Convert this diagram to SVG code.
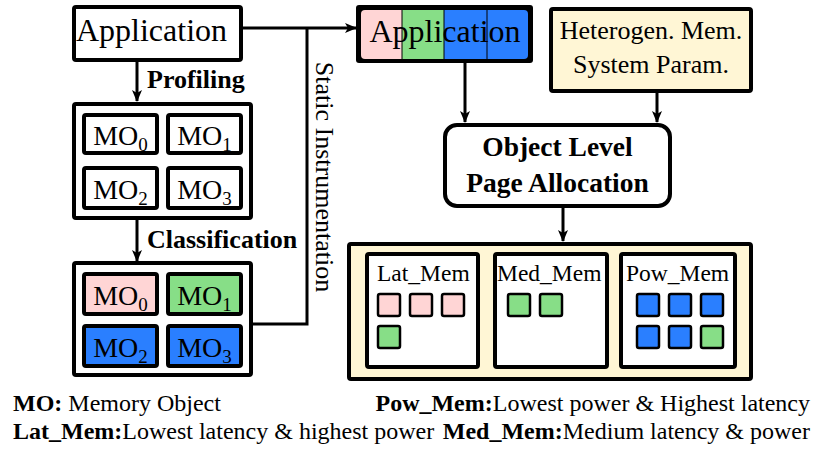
<svg xmlns="http://www.w3.org/2000/svg" width="813" height="451" viewBox="0 0 813 451">
<style>
.box{fill:#fff;stroke:#000;stroke-width:4}
.mo{stroke:#000;stroke-width:4}
.sq{stroke:#000;stroke-width:2.5}
.conn{fill:none;stroke:#000;stroke-width:3}
.b{font-weight:bold}
.pink{fill:#ffd5d5}.green{fill:#87de87}.blue{fill:#2a7fff}.cream{fill:#fff6d5}
</style>
<defs>
<marker id="ah" markerUnits="userSpaceOnUse" markerWidth="12" markerHeight="10" refX="11" refY="5" orient="auto">
<path d="M0,0 L12,5 L0,10 L3,5 z" fill="#000"/>
</marker>
<clipPath id="appclip"><rect x="361" y="10" width="167" height="49" rx="4"/></clipPath>
</defs>
<g font-family="'Liberation Serif', 'Times New Roman', Times, serif">
<g id="connectors">
<line class="conn" x1="243" y1="28" x2="356" y2="28" marker-end="url(#ah)"/>
<polyline class="conn" points="253,324 307,324 307,28"/>
<line class="conn" x1="137" y1="62" x2="137" y2="101" marker-end="url(#ah)"/>
<line class="conn" x1="137" y1="220" x2="137" y2="261" marker-end="url(#ah)"/>
<line class="conn" x1="465" y1="62" x2="465" y2="122" marker-end="url(#ah)"/>
<line class="conn" x1="657" y1="93" x2="657" y2="122" marker-end="url(#ah)"/>
<line class="conn" x1="563" y1="208" x2="563" y2="241" marker-end="url(#ah)"/>
<text class="b" x="147" y="88" font-size="26">Profiling</text>
<text class="b" x="147" y="248" font-size="26">Classification</text>
<text transform="translate(316,177) rotate(90)" text-anchor="middle" font-size="26">Static Instrumentation</text>
</g>

<g id="app-left">
<rect class="box" x="74" y="7" width="167" height="53" rx="2"/>
<text x="151.5" y="41" text-anchor="middle" font-size="32">Application</text>
</g>

<g id="mo-profile">
<rect class="box" x="74" y="104" width="177" height="114" rx="2"/>
<rect class="box" x="84" y="115" width="73" height="38" rx="2"/>
<rect class="box" x="168" y="115" width="73" height="38" rx="2"/>
<rect class="box" x="84" y="168" width="73" height="40" rx="2"/>
<rect class="box" x="168" y="168" width="73" height="40" rx="2"/>
<text x="120.5" y="145" text-anchor="middle" font-size="28">MO<tspan dy="6" font-size="19">0</tspan></text>
<text x="204.5" y="145" text-anchor="middle" font-size="28">MO<tspan dy="6" font-size="19">1</tspan></text>
<text x="120.5" y="199" text-anchor="middle" font-size="28">MO<tspan dy="6" font-size="19">2</tspan></text>
<text x="204.5" y="199" text-anchor="middle" font-size="28">MO<tspan dy="6" font-size="19">3</tspan></text>
</g>

<g id="mo-classified">
<rect class="box" x="74" y="263" width="177" height="112" rx="2"/>
<rect class="mo pink" x="84" y="274" width="73" height="40" rx="2"/>
<rect class="mo green" x="168" y="274" width="73" height="40" rx="2"/>
<rect class="mo blue" x="84" y="326" width="73" height="40" rx="2"/>
<rect class="mo blue" x="168" y="326" width="73" height="40" rx="2"/>
<text x="120.5" y="305" text-anchor="middle" font-size="28">MO<tspan dy="6" font-size="19">0</tspan></text>
<text x="204.5" y="305" text-anchor="middle" font-size="28">MO<tspan dy="6" font-size="19">1</tspan></text>
<text x="120.5" y="357" text-anchor="middle" font-size="28">MO<tspan dy="6" font-size="19">2</tspan></text>
<text x="204.5" y="357" text-anchor="middle" font-size="28">MO<tspan dy="6" font-size="19">3</tspan></text>
</g>

<g id="app-right">
<rect x="356" y="5" width="177" height="58" rx="3" fill="#000"/>
<g clip-path="url(#appclip)">
<rect class="pink" x="361" y="10" width="40.5" height="49"/>
<rect class="green" x="402.5" y="10" width="41" height="49"/>
<rect class="blue" x="444.5" y="10" width="42" height="49"/>
<rect class="blue" x="487.5" y="10" width="41" height="49"/>
</g>
<text x="445" y="42" text-anchor="middle" font-size="32">Application</text>
</g>

<g id="hetero">
<rect class="mo cream" x="551" y="9" width="200" height="82" rx="2"/>
<text x="651" y="39" text-anchor="middle" font-size="26">Heterogen. Mem.</text>
<text x="651" y="73" text-anchor="middle" font-size="26">System Param.</text>
</g>

<g id="object-alloc">
<rect class="box" x="445" y="125" width="225" height="81" rx="12"/>
<text class="b" x="557.5" y="156" text-anchor="middle" font-size="27.5">Object Level</text>
<text class="b" x="557.5" y="192" text-anchor="middle" font-size="27.5">Page Allocation</text>
</g>

<g id="memory">
<rect class="mo cream" x="349" y="244" width="402" height="135" rx="2"/>
<g id="lat-mem">
<rect class="box" x="367" y="254" width="111" height="113" rx="2"/>
<text x="377" y="281" font-size="23.5">Lat_Mem</text>
<rect class="sq pink" x="378" y="294" width="22" height="22" rx="2"/>
<rect class="sq pink" x="410" y="294" width="22" height="22" rx="2"/>
<rect class="sq pink" x="442" y="294" width="22" height="22" rx="2"/>
<rect class="sq green" x="378" y="326" width="22" height="22" rx="2"/>
</g>
<g id="med-mem">
<rect class="box" x="495" y="254" width="112" height="113" rx="2"/>
<text x="497" y="281" font-size="23.5">Med_Mem</text>
<rect class="sq green" x="508" y="294" width="22" height="22" rx="2"/>
<rect class="sq green" x="540" y="294" width="22" height="22" rx="2"/>
</g>
<g id="pow-mem">
<rect class="box" x="621" y="254" width="114" height="113" rx="2"/>
<text x="626" y="281" font-size="23.5">Pow_Mem</text>
<rect class="sq blue" x="637" y="294" width="22" height="22" rx="2"/>
<rect class="sq blue" x="669" y="294" width="22" height="22" rx="2"/>
<rect class="sq blue" x="701" y="294" width="22" height="22" rx="2"/>
<rect class="sq blue" x="637" y="326" width="22" height="22" rx="2"/>
<rect class="sq blue" x="669" y="326" width="22" height="22" rx="2"/>
<rect class="sq green" x="701" y="326" width="22" height="22" rx="2"/>
</g>
</g>

<g id="legend">
<text x="13" y="411" font-size="24"><tspan class="b">MO:</tspan> Memory Object</text>
<text x="810" y="411" text-anchor="end" font-size="24"><tspan class="b">Pow_Mem:</tspan>Lowest power &amp; Highest latency</text>
<text x="13" y="439" font-size="24"><tspan class="b">Lat_Mem:</tspan>Lowest latency &amp; highest power</text>
<text x="810" y="439" text-anchor="end" font-size="24"><tspan class="b">Med_Mem:</tspan>Medium latency &amp; power</text>
</g>
</g>
</svg>
